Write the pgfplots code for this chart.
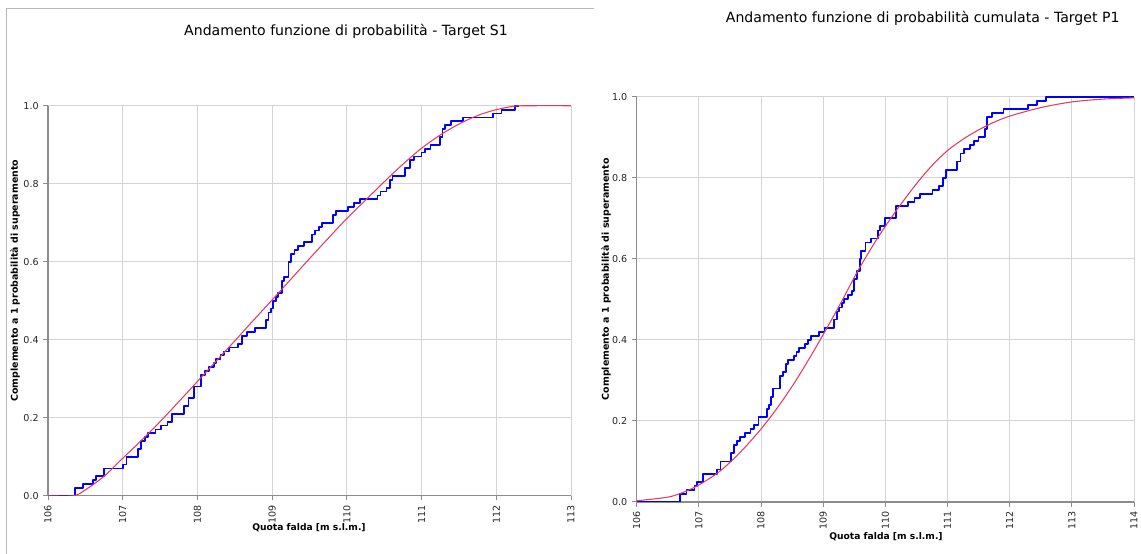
\documentclass[border=0pt]{standalone}
\usepackage{fontspec}
\setmainfont{DejaVu Sans}
\usepackage{pgfplots}
\pgfplotsset{compat=1.18}

\definecolor{stepblue}{RGB}{0,0,255}
\definecolor{fitred}{RGB}{228,60,95}
\definecolor{gridgray}{RGB}{212,212,212}
\definecolor{axisgray}{RGB}{140,140,140}

% common look of both panels
\pgfplotsset{
  falda/.style={
    scale only axis,
    anchor=south west,
    axis lines=left,
    axis line style={-, draw=axisgray, line width=0.9bp},
    grid=major,
    major grid style={draw=gridgray, line width=0.75bp},
    tick align=outside,
    major tick length=3.5bp,
    tick style={draw=axisgray, line width=0.75bp},
    ymin=0, ymax=1,
    ytick={0,0.2,0.4,0.6,0.8,1.0},
    xtick distance=1,
    ticklabel style={font=\fontsize{7.2}{8}\selectfont, text=black!85},
    /pgf/number format/assume math mode=true,
    yticklabel style={/pgf/number format/.cd, fixed, fixed zerofill, precision=1},
    xticklabel style={rotate=90, anchor=east},
  },
  empirica/.style={draw=stepblue, line width=1.35bp, const plot, line join=round},
  teorica/.style={draw=fitred, line width=0.8bp, smooth},
}

\begin{document}
\begin{tikzpicture}
\path[use as bounding box] (0,0) rectangle (855.75bp,415.5bp);

% frame of the left chart
\draw[draw=gray!55, line width=0.75bp] (4.5bp,0) -- (4.5bp,408.75bp) -- (445.5bp,408.75bp);

% ---------- Target S1 ----------
\begin{axis}[falda, at={(36bp,43.7bp)}, width=392.25bp, height=292.5bp,
  xmin=106, xmax=113]
\addplot[empirica] coordinates {
 (106.00,0.00) (106.36,0.02) (106.47,0.03) (106.60,0.04) (106.64,0.05)
 (106.75,0.07) (107.00,0.08) (107.05,0.10) (107.20,0.12) (107.24,0.14)
 (107.30,0.15) (107.34,0.16) (107.44,0.17) (107.51,0.18) (107.60,0.19)
 (107.66,0.21) (107.82,0.23) (107.88,0.25) (107.95,0.28) (108.05,0.31)
 (108.10,0.32) (108.15,0.33) (108.22,0.34) (108.25,0.35) (108.31,0.36)
 (108.36,0.37) (108.42,0.38) (108.54,0.39) (108.60,0.41) (108.66,0.42)
 (108.77,0.43) (108.92,0.45) (108.95,0.47) (108.98,0.48) (109.01,0.50)
 (109.05,0.51) (109.08,0.52) (109.13,0.55) (109.16,0.56) (109.22,0.60)
 (109.25,0.62) (109.30,0.63) (109.35,0.64) (109.43,0.65) (109.53,0.67)
 (109.57,0.68) (109.63,0.69) (109.67,0.70) (109.81,0.72) (109.86,0.73)
 (110.01,0.74) (110.10,0.75) (110.18,0.76) (110.41,0.77) (110.45,0.78)
 (110.53,0.79) (110.58,0.81) (110.61,0.82) (110.78,0.84) (110.84,0.86)
 (110.90,0.87) (111.00,0.88) (111.05,0.89) (111.12,0.90) (111.25,0.92)
 (111.28,0.94) (111.31,0.95) (111.39,0.96) (111.55,0.97) (111.96,0.98)
 (112.07,0.99) (112.25,1.00) (112.30,1.00)
};
\addplot[teorica] coordinates {
 (106.00,0.000) (106.34,0.000) (106.50,0.015) (106.75,0.050) (107.00,0.096)
 (107.25,0.142) (107.50,0.190) (107.75,0.241) (108.00,0.293) (108.25,0.345)
 (108.50,0.397) (108.75,0.450) (109.00,0.502) (109.25,0.555) (109.50,0.608)
 (109.75,0.660) (110.00,0.711) (110.25,0.758) (110.50,0.805) (110.75,0.850)
 (111.00,0.891) (111.25,0.925) (111.50,0.953) (111.75,0.975) (112.00,0.990)
 (112.25,0.999) (112.50,1.000) (113.00,1.000)
};
\end{axis}

% ---------- Target P1 ----------
\begin{axis}[falda, at={(477.5bp,39bp)}, width=373bp, height=304bp,
  xmin=106, xmax=114]
\addplot[empirica] coordinates {
 (106.00,0.00) (106.70,0.02) (106.80,0.03) (106.93,0.04) (106.97,0.05)
 (107.07,0.07) (107.29,0.08) (107.35,0.10) (107.52,0.12) (107.57,0.14)
 (107.61,0.15) (107.66,0.16) (107.74,0.17) (107.83,0.18) (107.89,0.19)
 (107.96,0.21) (108.10,0.23) (108.13,0.24) (108.16,0.26) (108.19,0.28)
 (108.31,0.31) (108.35,0.32) (108.40,0.34) (108.44,0.35) (108.53,0.36)
 (108.57,0.37) (108.61,0.38) (108.71,0.39) (108.75,0.40) (108.80,0.41)
 (108.93,0.42) (109.02,0.43) (109.18,0.45) (109.22,0.47) (109.26,0.48)
 (109.30,0.49) (109.34,0.50) (109.40,0.51) (109.46,0.52) (109.50,0.55)
 (109.55,0.57) (109.59,0.60) (109.61,0.62) (109.68,0.64) (109.77,0.65)
 (109.88,0.67) (109.92,0.68) (110.00,0.70) (110.17,0.73) (110.36,0.74)
 (110.47,0.75) (110.56,0.76) (110.76,0.77) (110.86,0.78) (110.93,0.80)
 (110.97,0.82) (111.15,0.84) (111.21,0.86) (111.26,0.87) (111.36,0.88)
 (111.42,0.89) (111.50,0.90) (111.60,0.92) (111.64,0.95) (111.72,0.96)
 (111.90,0.97) (112.30,0.98) (112.44,0.99) (112.59,1.00) (114.00,1.00)
};
\addplot[teorica] coordinates {
 (106.00,0.003) (106.50,0.012) (106.75,0.024) (107.00,0.042) (107.33,0.075)
 (107.65,0.120) (108.00,0.180) (108.28,0.236) (108.55,0.297) (108.80,0.360)
 (109.00,0.413) (109.28,0.490) (109.55,0.568) (109.87,0.650) (110.19,0.722)
 (110.50,0.785) (110.75,0.830) (111.00,0.867) (111.25,0.895) (111.50,0.918)
 (111.75,0.937) (112.00,0.952) (112.50,0.973) (113.00,0.987) (113.50,0.994)
 (114.00,0.997)
};
\end{axis}

% titles and axis labels
\node[font=\fontsize{10.6}{13}\selectfont] at (259.5bp,392bp)
  {Andamento funzione di probabilità - Target S1};
\node[font=\fontsize{10.6}{13}\selectfont] at (692bp,402bp)
  {Andamento funzione di probabilità cumulata -  Target P1};
\node[font=\bfseries\fontsize{6.9}{8}\selectfont] at (231.75bp,19.5bp)
  {Quota falda [m s.l.m.]};
\node[font=\bfseries\fontsize{6.9}{8}\selectfont] at (664.5bp,12.75bp)
  {Quota falda [m s.l.m.]};
\node[rotate=90, font=\bfseries\fontsize{7.1}{8}\selectfont] at (11.25bp,205bp)
  {Complemento a 1 probabilità  di superamento};
\node[rotate=90, font=\bfseries\fontsize{7.1}{8}\selectfont] at (454.5bp,206bp)
  {Complemento a 1 probabilità  di superamento};
\end{tikzpicture}
\end{document}
